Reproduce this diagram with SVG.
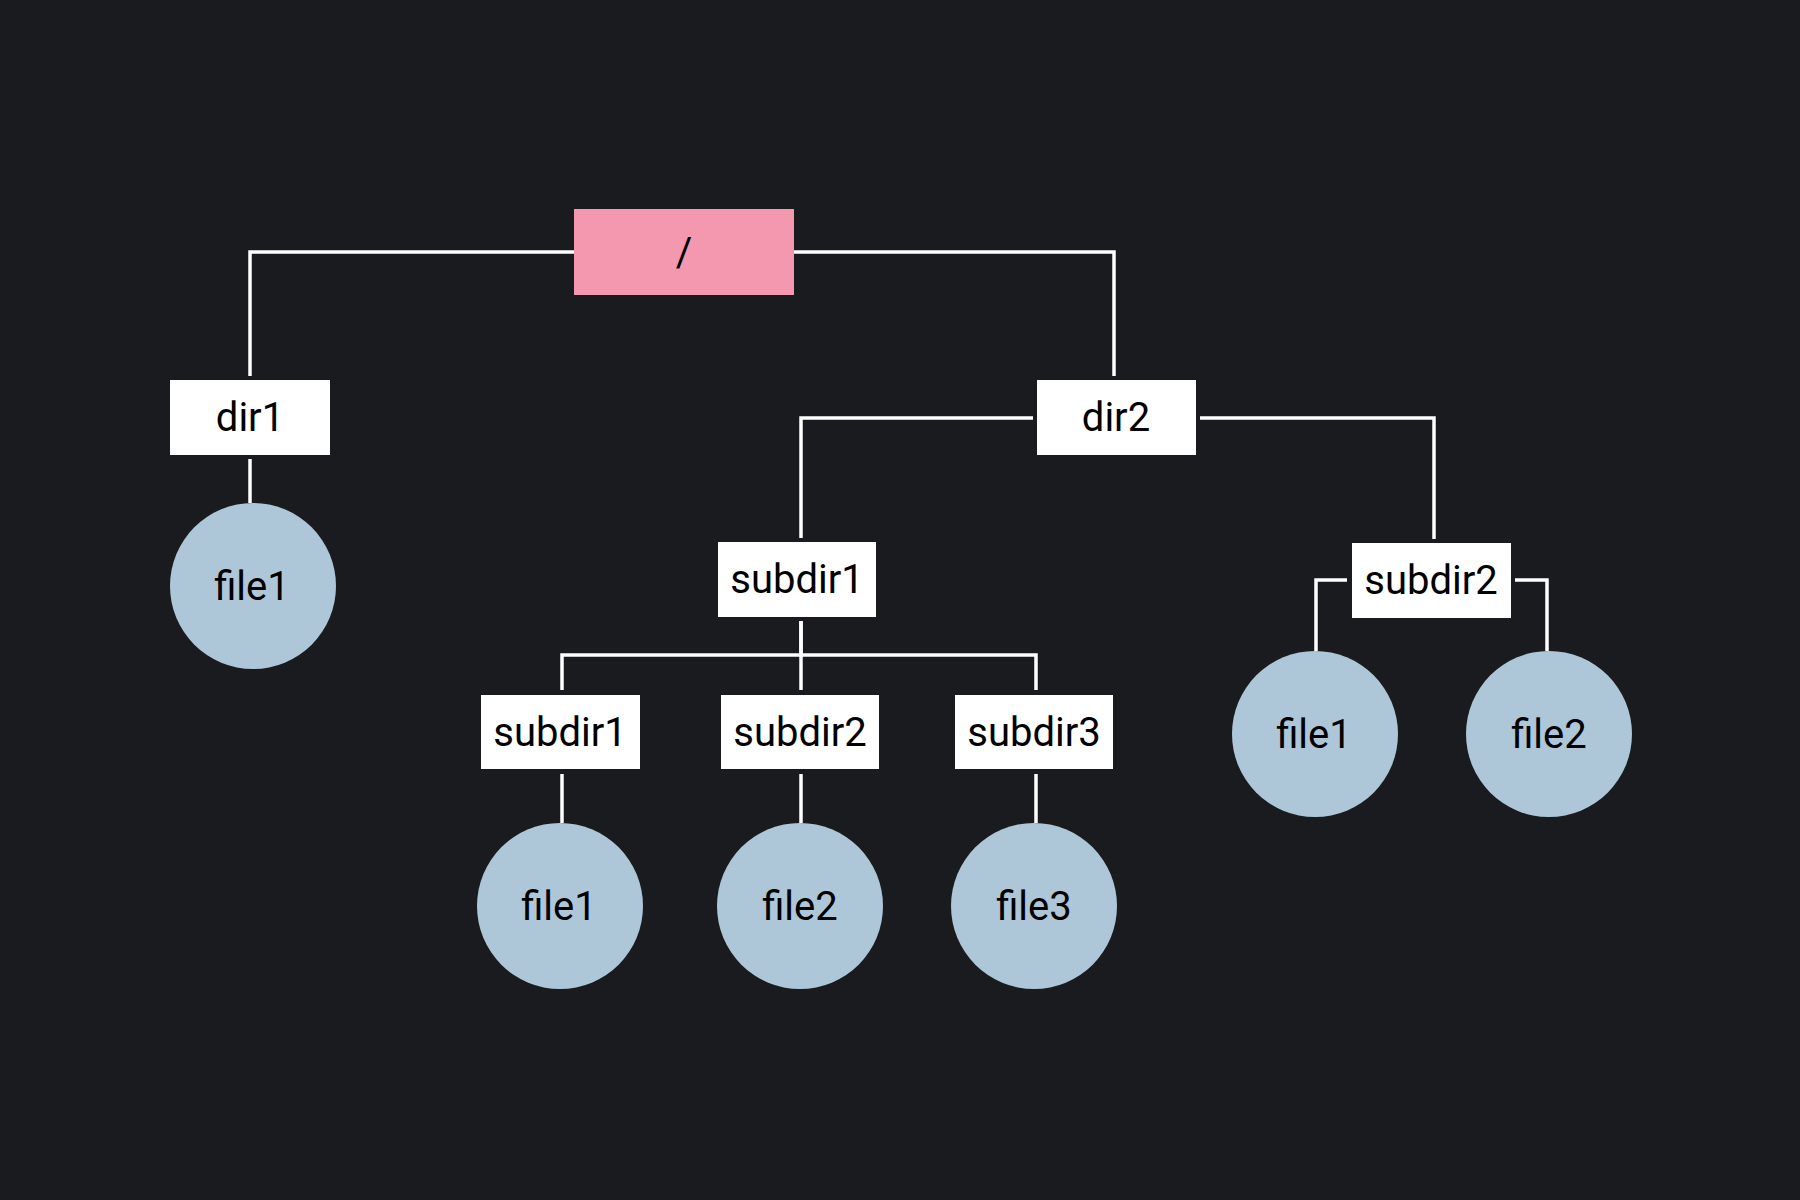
<svg xmlns="http://www.w3.org/2000/svg" width="1800" height="1200" viewBox="0 0 1800 1200">
<style>
.bg{fill:#1a1b1f}
.dir{fill:#ffffff}
.root{fill:#f398ae}
.file{fill:#aec7d8}
.lbl{font-family:Roboto,"Liberation Sans",sans-serif;font-size:40px;fill:#000000;text-anchor:middle}
.edge{fill:none;stroke:#ffffff;stroke-width:3.5}
</style>
<rect class="bg" x="0" y="0" width="1800" height="1200"/>
<g id="connectors">
<path class="edge" d="M574,252 H250 V376"/>
<path class="edge" d="M794,252 H1114 V376"/>
<path class="edge" d="M250,459 V503"/>
<path class="edge" d="M1033,418 H801 V538"/>
<path class="edge" d="M1200,418 H1434 V539"/>
<path class="edge" d="M801,621 V655 H562 V690"/>
<path class="edge" d="M801,621 V690"/>
<path class="edge" d="M801,655 H1036 V690"/>
<path class="edge" d="M562,774 V823"/>
<path class="edge" d="M801,774 V823"/>
<path class="edge" d="M1036,774 V823"/>
<path class="edge" d="M1347,580 H1316 V651"/>
<path class="edge" d="M1515,580 H1547 V651"/>
</g>
<g id="root"><rect class="root" x="574" y="209" width="220" height="86"/><text class="lbl" x="684" y="266">/</text></g>
<g id="dir1"><rect class="dir" x="170" y="380" width="160" height="75"/><text class="lbl" x="250" y="431">dir1</text></g>
<g id="dir2"><rect class="dir" x="1037" y="380" width="159" height="75"/><text class="lbl" x="1116" y="431">dir2</text></g>
<g id="dir1-file1"><circle class="file" cx="253" cy="586" r="83"/><text class="lbl" x="252" y="600">file1</text></g>
<g id="dir2-subdir1"><rect class="dir" x="718" y="542" width="158" height="75"/><text class="lbl" x="797" y="593">subdir1</text></g>
<g id="dir2-subdir2"><rect class="dir" x="1352" y="543" width="159" height="75"/><text class="lbl" x="1431" y="594">subdir2</text></g>
<g id="s1-subdir1"><rect class="dir" x="481" y="695" width="159" height="74"/><text class="lbl" x="560" y="746">subdir1</text></g>
<g id="s1-subdir2"><rect class="dir" x="721" y="695" width="158" height="74"/><text class="lbl" x="800" y="746">subdir2</text></g>
<g id="s1-subdir3"><rect class="dir" x="955" y="695" width="158" height="74"/><text class="lbl" x="1034" y="746">subdir3</text></g>
<g id="s1s1-file1"><circle class="file" cx="560" cy="906" r="83"/><text class="lbl" x="559" y="920">file1</text></g>
<g id="s1s2-file2"><circle class="file" cx="800" cy="906" r="83"/><text class="lbl" x="800" y="920">file2</text></g>
<g id="s1s3-file3"><circle class="file" cx="1034" cy="906" r="83"/><text class="lbl" x="1034" y="920">file3</text></g>
<g id="s2-file1"><circle class="file" cx="1315" cy="734" r="83"/><text class="lbl" x="1314" y="748">file1</text></g>
<g id="s2-file2"><circle class="file" cx="1549" cy="734" r="83"/><text class="lbl" x="1549" y="748">file2</text></g>
</svg>
